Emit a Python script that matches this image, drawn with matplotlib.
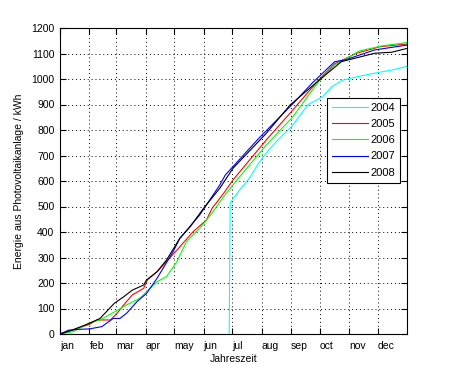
import matplotlib
matplotlib.use("Agg")
import matplotlib.pyplot as plt

# day of year -> cumulative energy (kWh)
days_2004 = [179, 180, 190, 200, 210, 220, 230, 245, 262, 277, 287, 298, 315, 332, 350, 366]
vals_2004 = [0, 515, 565, 610, 670, 720, 760, 815, 900, 930, 970, 995, 1010, 1023, 1035, 1050]

days_2005 = [1, 15, 32, 40, 54, 61, 68, 77, 89, 93, 103, 113, 124, 141, 155, 161, 173, 183,
             218, 243, 264, 273, 290, 313, 338, 366]
vals_2005 = [0, 16, 38, 55, 55, 81, 114, 153, 179, 212, 244, 284, 329, 401, 447, 493, 551, 604,
             761, 866, 957, 996, 1060, 1101, 1127, 1137]

days_2006 = [1, 15, 32, 43, 59, 71, 85, 92, 103, 113, 124, 134, 148, 162, 173, 190, 218, 246,
             264, 273, 290, 316, 340, 366]
vals_2006 = [0, 9, 44, 55, 88, 114, 140, 166, 205, 225, 284, 362, 414, 480, 538, 617, 741, 852,
             944, 990, 1055, 1110, 1130, 1143]

days_2007 = [1, 10, 20, 32, 45, 57, 64, 71, 82, 92, 103, 120, 127, 148, 169, 175, 210, 248,
             266, 290, 301, 332, 366]
vals_2007 = [0, 15, 18, 20, 29, 61, 61, 81, 127, 159, 218, 323, 375, 467, 584, 624, 767, 911,
             983, 1068, 1075, 1114, 1133]

days_2008 = [1, 12, 32, 43, 50, 58, 68, 77, 89, 92, 103, 113, 127, 138, 152, 169, 183, 218,
             243, 276, 297, 332, 350, 366]
vals_2008 = [0, 13, 42, 61, 88, 120, 146, 172, 192, 212, 244, 290, 375, 421, 493, 571, 650, 787,
             898, 1003, 1068, 1101, 1105, 1120]

years = ["2004", "2005", "2006", "2007", "2008"]
colors = ["#00ffff", "#ff0000", "#00ff00", "#0000ff", "#000000"]

month_days = [1, 32, 60, 91, 121, 152, 182, 213, 244, 274, 305, 335]
month_labels = ["jan", "feb", "mar", "apr", "may", "jun",
                "jul", "aug", "sep", "oct", "nov", "dec"]
y_ticks = list(range(0, 1201, 100))

plt.rcParams["font.family"] = ["Liberation Sans", "DejaVu Sans"]
plt.rcParams["font.size"] = 7.5

fig = plt.figure(figsize=(4.5, 3.75), dpi=100)
ax = fig.add_axes([60 / 450, 41 / 375, 347 / 450, 306 / 375])

series = [(days_2004, vals_2004), (days_2005, vals_2005), (days_2006, vals_2006),
          (days_2007, vals_2007), (days_2008, vals_2008)]
for (d, v), c, lab in zip(series, colors, years):
    ax.plot(d, v, color=c, lw=0.8, label=lab)

ax.set_xlim(1, 366)
ax.set_ylim(0, 1200)
ax.set_xticks(month_days)
ax.set_xticklabels(month_labels, ha="left")
ax.set_yticks(y_ticks)
ax.tick_params(direction="in", top=True, right=True, length=4, width=0.8)
ax.tick_params(axis="x", pad=5)
ax.tick_params(axis="y", pad=4)
ax.grid(True, color="black", linestyle=(0, (1, 3)), linewidth=0.7)
for s in ax.spines.values():
    s.set_linewidth(0.8)

ax.set_xlabel("Jahreszeit", labelpad=2)
ax.set_ylabel("Energie aus Photovoltaikanlage / kWh", labelpad=5)

leg = ax.legend(loc="upper right", bbox_to_anchor=(0.98, 0.771), borderaxespad=0,
                fancybox=False, framealpha=1, edgecolor="black", handlelength=3.2,
                fontsize=8, labelspacing=0.55, borderpad=0.45, handletextpad=0.25)
leg.get_frame().set_linewidth(0.8)

fig.savefig("out.png", dpi=100)
